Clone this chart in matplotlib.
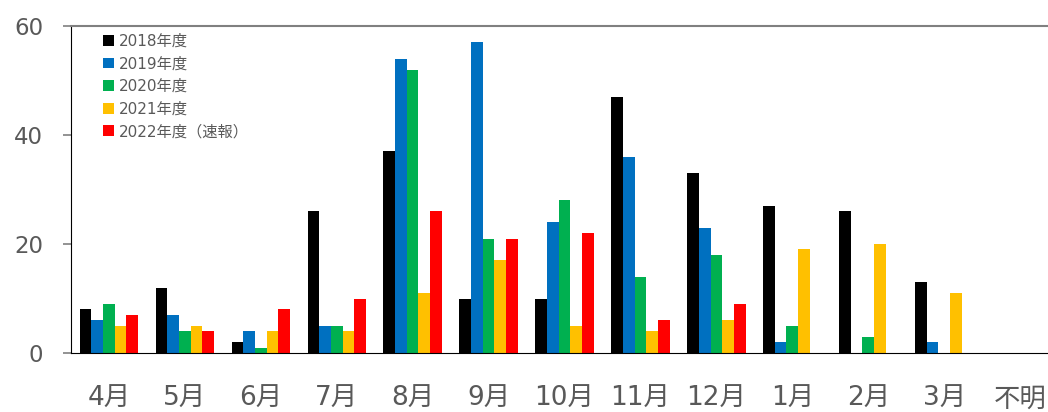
import numpy as np
import matplotlib
matplotlib.use("Agg")
import matplotlib.pyplot as plt

plt.rcParams['font.family'] = ['DejaVu Sans', 'Noto Sans CJK JP']

# Data
months = ['4月', '5月', '6月', '7月', '8月', '9月', '10月', '11月', '12月', '1月', '2月', '3月', '不明']
series_names = ['2018年度', '2019年度', '2020年度', '2021年度', '2022年度（速報）']
fy2018 = [8, 12, 2, 26, 37, 10, 10, 47, 33, 27, 26, 13, 0]
fy2019 = [6, 7, 4, 5, 54, 57, 24, 36, 23, 2, 0, 2, 0]
fy2020 = [9, 4, 1, 5, 52, 21, 28, 14, 18, 5, 3, 0, 0]
fy2021 = [5, 5, 4, 4, 11, 17, 5, 4, 6, 19, 20, 11, 0]
fy2022 = [7, 4, 8, 10, 26, 21, 22, 6, 9, 0, 0, 0, 0]
colors = ['#000000', '#0070C0', '#00B050', '#FFC000', '#FF0000']

series = [fy2018, fy2019, fy2020, fy2021, fy2022]
text_color = '#595959'

fig = plt.figure(figsize=(10.48, 4.12), dpi=100)
ax = fig.add_axes([71 / 1048, 59 / 412, 987 / 1048, 327 / 412])

x = np.arange(len(months))
bw = 0.154
for i, (vals, name, c) in enumerate(zip(series, series_names, colors)):
    ax.bar(x + (i - 2) * bw, vals, width=bw, color=c, label=name, linewidth=0)

ax.set_xlim(-0.5, len(months) - 0.5)
ax.set_ylim(0, 60)
ax.set_yticks([0, 20, 40, 60])
ax.set_xticks(x)
ax.set_xticklabels(months)

ax.tick_params(axis='y', direction='out', length=6, width=1.2, color='#808080',
               pad=14, labelsize=16.5, labelcolor=text_color)
ax.tick_params(axis='x', length=0, pad=24, labelsize=19, labelcolor=text_color)

ax.spines['left'].set_color('black')
ax.spines['bottom'].set_color('black')
ax.spines['top'].set_color('#808080')
ax.spines['top'].set_linewidth(1.5)
ax.spines['right'].set_visible(False)

leg = ax.legend(loc='upper left', bbox_to_anchor=(0.025, 1.0), frameon=False,
                fontsize=11, handlelength=0.7, handleheight=0.7,
                handletextpad=0.35, labelspacing=0.5, borderaxespad=0.1)
for t in leg.get_texts():
    t.set_color(text_color)

fig.savefig('out.png', dpi=100)
